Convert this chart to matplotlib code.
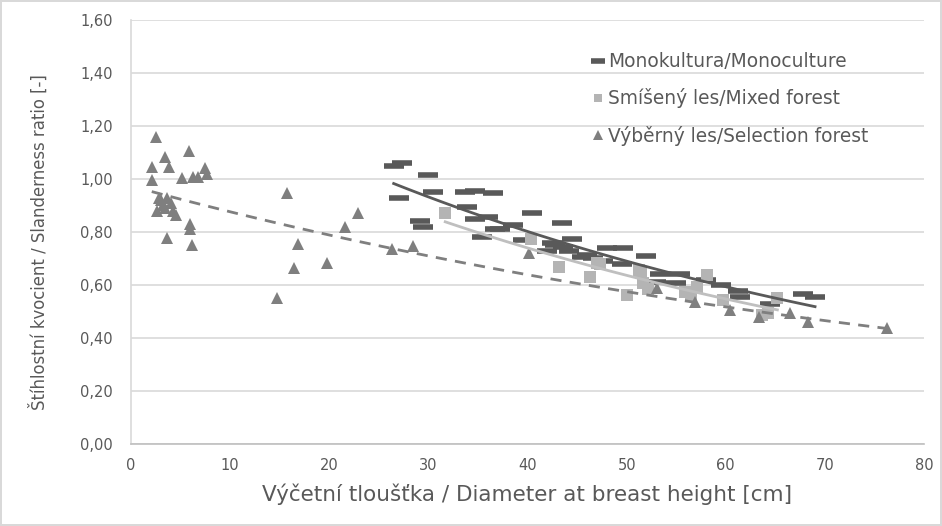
import numpy as np
import matplotlib.pyplot as plt
from matplotlib.ticker import FuncFormatter, MultipleLocator

plt.rcParams['font.family'] = ['DejaVu Sans']

# monokultura / monoculture
mono_x = [26.5, 27.3, 27.0, 30.0, 30.5, 29.2, 29.5, 33.7, 34.7, 36.5, 33.9, 34.7,
          36.7, 35.4, 40.5, 43.5, 36.0, 38.5, 37.2, 39.5, 42.5, 42.0, 44.5, 45.5,
          46.0, 48.0, 49.6, 51.9, 49.5, 53.4, 55.4, 55.0, 53.0, 61.2, 61.4, 64.5,
          67.8, 69.0, 42.8, 43.6, 44.2, 46.6, 47.6, 58.0, 59.5]
mono_y = [1.05, 1.06, 0.93, 1.015, 0.95, 0.84, 0.82, 0.95, 0.955, 0.947, 0.895, 0.85,
          0.81, 0.78, 0.87, 0.834, 0.857, 0.826, 0.81, 0.77, 0.76, 0.73, 0.774, 0.705,
          0.713, 0.74, 0.74, 0.71, 0.68, 0.64, 0.64, 0.607, 0.61, 0.577, 0.555, 0.53,
          0.566, 0.555, 0.75, 0.745, 0.73, 0.70, 0.69, 0.62, 0.60]

# smíšený les / mixed forest
mixed_x = [31.7, 40.4, 43.2, 46.3, 47.0, 50.0, 51.2, 51.4, 51.6, 52.2, 55.9, 57.1,
           58.1, 59.7, 63.7, 65.2, 64.3, 47.3, 56.5]
mixed_y = [0.872, 0.774, 0.668, 0.63, 0.683, 0.562, 0.657, 0.645, 0.607, 0.585, 0.574,
           0.592, 0.638, 0.543, 0.487, 0.551, 0.494, 0.68, 0.56]

# výběrný les / selection forest
sel_x = [2.5, 5.9, 3.4, 2.1, 3.8, 2.1, 5.1, 6.3, 6.8, 7.5, 7.7, 2.6, 3.0, 3.4, 3.6,
         4.0, 3.2, 2.8, 4.2, 4.5, 6.0, 6.0, 3.6, 6.2, 15.7, 22.9, 21.6, 16.9, 19.8,
         16.4, 14.7, 26.3, 28.4, 40.1, 53.1, 56.9, 60.4, 63.3, 66.5, 68.3, 76.3]
sel_y = [1.16, 1.106, 1.083, 1.045, 1.045, 0.996, 1.004, 1.008, 1.008, 1.04, 1.02,
         0.88, 0.92, 0.89, 0.93, 0.91, 0.90, 0.93, 0.88, 0.864, 0.83, 0.81, 0.777,
         0.75, 0.947, 0.872, 0.82, 0.755, 0.683, 0.664, 0.551, 0.736, 0.747, 0.72,
         0.589, 0.536, 0.506, 0.479, 0.494, 0.46, 0.438]

c_mono = '#595959'
c_mixed = '#B4B4B4'
c_sel = '#7F7F7F'
c_text = '#595959'


def exp_trend(x, y):
    # exponential trendline like in Excel
    b, lna = np.polyfit(x, np.log(y), 1)
    xs = np.linspace(min(x), max(x), 100)
    return xs, np.exp(lna) * np.exp(b * xs)


fig = plt.figure(figsize=(9.42, 5.26), dpi=100)
fig.patch.set_edgecolor('#D9D9D9')
fig.patch.set_linewidth(1.5)
ax = fig.add_axes([0.139, 0.156, 0.842, 0.806])

ax.plot(mono_x, mono_y, '_', color=c_mono, markersize=14, markeredgewidth=4,
        label='Monokultura/Monoculture', zorder=3)
ax.plot(mixed_x, mixed_y, 's', color=c_mixed, markersize=8, markeredgewidth=0,
        label='Smíšený les/Mixed forest', zorder=3)
ax.plot(sel_x, sel_y, '^', color=c_sel, markersize=8.5, markeredgewidth=0,
        label='Výběrný les/Selection forest', zorder=3)

xs, ys = exp_trend(mono_x, mono_y)
ax.plot(xs, ys, '-', color=c_mono, linewidth=2, zorder=4)
xs, ys = exp_trend(mixed_x, mixed_y)
ax.plot(xs, ys, '-', color='#BFBFBF', linewidth=2, zorder=4)
xs, ys = exp_trend(sel_x, sel_y)
ax.plot(xs, ys, '--', color=c_sel, linewidth=2, dashes=(4, 3), zorder=4)

ax.set_xlim(0, 80)
ax.set_ylim(0, 1.6)
ax.xaxis.set_major_locator(MultipleLocator(10))
ax.yaxis.set_major_locator(MultipleLocator(0.2))
ax.yaxis.set_major_formatter(FuncFormatter(lambda v, p: f'{v:.2f}'.replace('.', ',')))
ax.grid(axis='y', color='#D9D9D9', linewidth=1.2)
ax.set_axisbelow(True)
ax.tick_params(length=0, labelsize=10.5, labelcolor=c_text)
ax.tick_params(axis='y', pad=13)
ax.tick_params(axis='x', pad=10)
for s in ['top', 'right']:
    ax.spines[s].set_visible(False)
ax.spines['left'].set_color('#D9D9D9')
ax.spines['bottom'].set_color('#BFBFBF')
ax.spines['left'].set_linewidth(1.2)
ax.spines['bottom'].set_linewidth(1.2)

ax.set_xlabel('Výčetní tloušťka / Diameter at breast height [cm]', fontsize=15.5,
              color=c_text, labelpad=8)
ax.set_ylabel('Štíhlostní kvocient / Slanderness ratio [-]', fontsize=11.9,
              color=c_text)
ax.yaxis.set_label_coords(-0.104, 0.476)

leg = ax.legend(loc='upper left', bbox_to_anchor=(583 / 942, 1 - 43 / 526),
                bbox_transform=fig.transFigure, frameon=False, borderpad=0,
                fontsize=13.4, labelcolor=c_text, handlelength=0.6,
                handletextpad=0.25, labelspacing=0.92, markerscale=0.8)
leg.legend_handles[0].set_markersize(10)

fig.savefig('out.png', dpi=100)
